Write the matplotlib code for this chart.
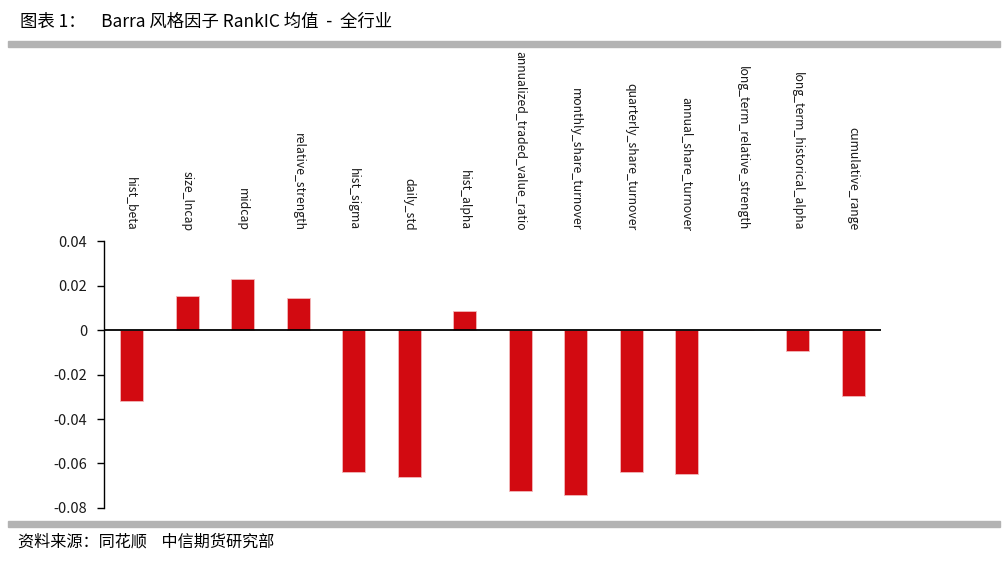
import matplotlib.pyplot as plt
from matplotlib.patches import Rectangle

plt.rcParams['font.family'] = ['Noto Sans CJK SC', 'DejaVu Sans']

factors = ['hist_beta', 'size_lncap', 'midcap', 'relative_strength', 'hist_sigma',
           'daily_std', 'hist_alpha', 'annualized_traded_value_ratio',
           'monthly_share_turnover', 'quarterly_share_turnover', 'annual_share_turnover',
           'long_term_relative_strength', 'long_term_historical_alpha', 'cumulative_range']
rank_ic = [-0.0319, 0.0154, 0.0229, 0.0145, -0.0638, -0.0661, 0.0085, -0.0724,
           -0.0740, -0.0638, -0.0647, 0.0, -0.0093, -0.0295]
y_ticks = [0.04, 0.02, 0, -0.02, -0.04, -0.06, -0.08]
y_tick_labels = ['0.04', '0.02', '0', '-0.02', '-0.04', '-0.06', '-0.08']


def plot_rank_ic() -> None:
    fig = plt.figure(figsize=(10.07, 5.63), dpi=100)
    ax = fig.add_axes([0.1033, 0.0977, 0.7716, 0.4742])

    x = range(len(factors))
    ax.bar(x, rank_ic, width=0.42, color='#D20A11', edgecolor='#F2B8BA', linewidth=0.6, zorder=2)
    ax.axhline(0, color='black', linewidth=1.3, zorder=3)

    ax.set_xlim(-0.5, len(factors) - 0.5)
    ax.set_ylim(-0.08, 0.04)
    ax.set_yticks(y_ticks)
    ax.set_yticklabels(y_tick_labels, fontsize=10.5, color='#1a1a1a')
    ax.set_xticks([])
    ax.tick_params(axis='y', direction='out', length=5, width=1, pad=7)
    for side in ['top', 'right', 'bottom']:
        ax.spines[side].set_visible(False)
    ax.spines['left'].set_linewidth(1)

    # category names sit above the plot, rotated
    for i, name in enumerate(factors):
        ax.text(i, 0.0447, name, rotation=-90, ha='center', va='bottom',
                fontsize=8.8, color='#1a1a1a', clip_on=False)

    fig.text(0.02, 1 - 22 / 563, '图表 1：    Barra 风格因子 RankIC 均值  -  全行业',
             fontsize=12.5, va='center', ha='left', color='black')
    fig.patches.append(Rectangle((0.008, 1 - 47 / 563), 0.985, 6 / 563,
                                 transform=fig.transFigure, color='#B3B3B3'))
    fig.patches.append(Rectangle((0.008, 1 - 527 / 563), 0.985, 6 / 563,
                                 transform=fig.transFigure, color='#B3B3B3'))
    fig.text(0.018, 1 - 542 / 563, '资料来源：同花顺    中信期货研究部',
             fontsize=11.6, va='center', ha='left', color='black')

    fig.savefig('out.png', dpi=100)


if __name__ == '__main__':
    plot_rank_ic()
